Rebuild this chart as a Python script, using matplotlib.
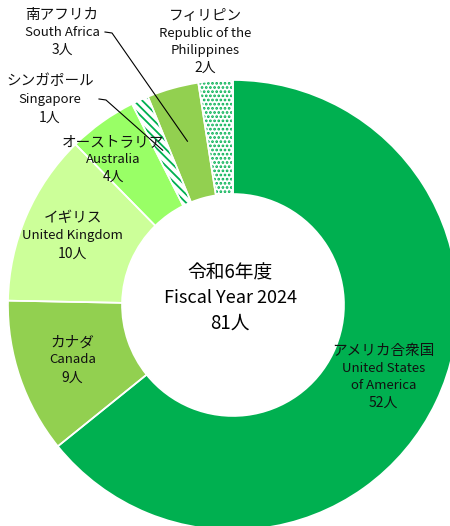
import numpy as np
import matplotlib
matplotlib.use("Agg")
import matplotlib.pyplot as plt

plt.rcParams['font.family'] = ['Noto Sans CJK JP', 'DejaVu Sans']
plt.rcParams['hatch.linewidth'] = 1.3

# --- data ---
names_jp = ['アメリカ合衆国', 'カナダ', 'イギリス', 'オーストラリア', 'シンガポール', '南アフリカ', 'フィリピン']
names_en = ['United States\nof America', 'Canada', 'United Kingdom', 'Australia', 'Singapore',
            'South Africa', 'Republic of the\nPhilippines']
counts = [52, 9, 10, 4, 1, 3, 2]
colors = ['#00B050', '#92D050', '#CCFF99', '#99FF66', 'white', '#92D050', 'white']
hatches = [None, None, None, None, '\\\\\\\\', None, '....']
total = sum(counts)

W, H = 450, 526
fig = plt.figure(figsize=(W / 100, H / 100), dpi=100)
ax = fig.add_axes([0, 0, 1, 1])

cx, cy = 233, H - 305
R = 225
ring = 114

# base pie (fills + patterns)
wedges, _ = ax.pie(counts, colors=colors, startangle=90, counterclock=False,
                   center=(cx, cy), radius=R, wedgeprops=dict(width=ring, linewidth=0),
                   frame=True)
for w, h in zip(wedges, hatches):
    if h:
        w.set_hatch(h)
        w.set_edgecolor('#00B050')
        w.set_linewidth(0)
# white separators on top
ax.pie(counts, colors=['none'] * len(counts), startangle=90, counterclock=False,
       center=(cx, cy), radius=R,
       wedgeprops=dict(width=ring, linewidth=1.2, edgecolor='white'), frame=True)
ax.set_xlim(0, W)
ax.set_ylim(0, H)
ax.axis('off')


def wedge_point(i, r):
    w = wedges[i]
    ang = np.deg2rad((w.theta1 + w.theta2) / 2)
    return cx + r * np.cos(ang), cy + r * np.sin(ang)


def label(x, y, jp, en, n, gap=17.5):
    lines = [(jp, 10.5)] + [(s, 9.5) for s in en.split('\n')] + [(f'{n}人', 10)]
    y0 = y + gap * (len(lines) - 1) / 2
    for k, (s, fs) in enumerate(lines):
        ax.text(x, y0 - k * gap, s, ha='center', va='center', fontsize=fs, color='#111111')


# inside labels
inside = {0: (0.74, 0, 0), 1: (0.755, 0, 0), 2: (0.775, 0, 0), 3: (0.84, -10, -8)}
for i, (f, dx, dy) in inside.items():
    x, y = wedge_point(i, R * f)
    label(x + dx, y + dy, names_jp[i], names_en[i], counts[i])

# outside labels
label(50, H - 99, names_jp[4], names_en[4], counts[4], gap=18.5)
label(62, H - 32, names_jp[5], names_en[5], counts[5])
label(205, H - 42, names_jp[6], names_en[6], counts[6])

# leader lines
for i, (x0, y0) in [(4, (99, H - 99)), (5, (105, H - 32))]:
    px, py = wedge_point(i, 170)
    ax.plot([x0, x0 + 7, px], [y0, y0 - 1, py], color='black', lw=0.8)

# center text
ax.text(cx - 3, cy + 32, '令和6年度', ha='center', va='center', fontsize=13.5)
ax.text(cx - 3, cy + 7, 'Fiscal Year 2024', ha='center', va='center', fontsize=13)
ax.text(cx - 3, cy - 18, f'{total}人', ha='center', va='center', fontsize=13.5)

fig.savefig('out.png', dpi=100)
